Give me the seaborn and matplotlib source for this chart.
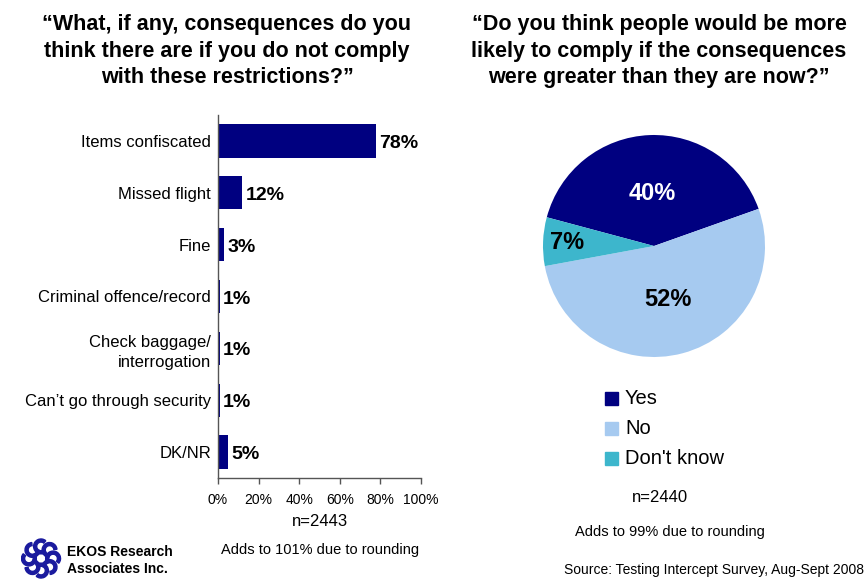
import numpy as np
import pandas as pd
import matplotlib
matplotlib.use("Agg")
import matplotlib.pyplot as plt
from matplotlib.patches import Circle, Rectangle, Wedge
import seaborn as sns

# Consequences question (bar chart)
consequences = ["Items confiscated", "Missed flight", "Fine", "Criminal offence/record",
                "Check baggage/\ninterrogation", "Can\u2019t go through security", "DK/NR"]
consequence_pct = [78, 12, 3, 1, 1, 1, 5]
bar_ticks = [0, 20, 40, 60, 80, 100]

# Compliance question (pie chart)
comply_labels = ["Yes", "No", "Don't know"]
comply_pct = [40, 52, 7]

NAVY = "#000080"
LIGHT = "#A6CAF0"
TEAL = "#3DB6CC"
comply_colors = [NAVY, LIGHT, TEAL]

sns.set_theme(style="white")
plt.rcParams["font.family"] = ["Liberation Sans", "DejaVu Sans"]
plt.rcParams["text.color"] = "black"
plt.rcParams["xtick.color"] = "black"
plt.rcParams["ytick.color"] = "black"

W, H = 867, 579
fig = plt.figure(figsize=(W / 100, H / 100), dpi=100)


def px_axes(x0, y0, x1, y1):
    return fig.add_axes([x0 / W, 1 - y1 / H, (x1 - x0) / W, (y1 - y0) / H])


def fig_text(x, y, s, **kw):
    fig.text(x / W, 1 - y / H, s, **kw)


# ---- bar chart ----
ax = px_axes(218, 115, 421, 478)
df = pd.DataFrame({"item": consequences, "pct": consequence_pct})
sns.barplot(data=df, y="item", x="pct", orient="h", color=NAVY, saturation=1,
            width=0.64, ax=ax)
for p in ax.patches:
    p.set_edgecolor("none")
ax.set_xlim(0, 100)
ax.set_xticks(bar_ticks)
ax.set_xticklabels([f"{t}%" for t in bar_ticks], fontsize=10)
ax.set_yticks(range(len(consequences)))
ax.set_yticklabels(consequences, fontsize=12, linespacing=1.45)
ax.set_xlabel("")
ax.set_ylabel("")
ax.tick_params(axis="y", length=0, pad=5)
ax.tick_params(axis="x", bottom=True, length=4, width=1, color="#555555", pad=7)
for side in ["top", "right"]:
    ax.spines[side].set_visible(False)
for side in ["left", "bottom"]:
    ax.spines[side].set_color("#555555")
    ax.spines[side].set_linewidth(1)
for i, v in enumerate(consequence_pct):
    ax.text(v + 1.5, i + 0.05, f"{v}%", va="center", ha="left", fontsize=14,
            fontweight="bold", color="black")

# ---- pie chart ----
pax = px_axes(543, 135, 765, 357)
wedges, _ = pax.pie(comply_pct, colors=comply_colors, startangle=165,
                    counterclock=False, radius=1,
                    wedgeprops=dict(linewidth=0))
pax.set_xlim(-1, 1)
pax.set_ylim(-1, 1)
pax.set_aspect("equal")
label_dist = [0.47, 0.5, 0.78]
label_col = ["white", "black", "black"]
for w, v, d, c in zip(wedges, comply_pct, label_dist, label_col):
    mid = np.deg2rad((w.theta1 + w.theta2) / 2)
    pax.text(d * np.cos(mid), d * np.sin(mid), f"{v}%", ha="center", va="center",
             fontsize=17, fontweight="bold", color=c)

# legend
lax = px_axes(600, 380, 760, 475)
lax.set_axis_off()
lax.set_xlim(0, 160)
lax.set_ylim(95, 0)
for k, (lab, col) in enumerate(zip(comply_labels, comply_colors)):
    yc = 18 + k * 30
    lax.add_patch(Rectangle((5, yc - 6), 13, 13, color=col))
    lax.text(25, yc, lab, va="center", ha="left", fontsize=14.5)

# ---- titles ----
title_kw = dict(ha="center", va="center", fontsize=15.5, fontweight="bold",
                linespacing=1.35)
fig_text(227, 51, "\u201cWhat, if any, consequences do you\nthink there are if you do not comply\nwith these restrictions?\u201d", **title_kw)
fig_text(659, 51, "\u201cDo you think people would be more\nlikely to comply if the consequences\nwere greater than they are now?\u201d", **title_kw)

# ---- notes ----
fig_text(320, 521, "n=2443", ha="center", va="center", fontsize=12)
fig_text(320, 550, "Adds to 101% due to rounding", ha="center", va="center", fontsize=10.5)
fig_text(660, 497, "n=2440", ha="center", va="center", fontsize=12)
fig_text(670, 532, "Adds to 99% due to rounding", ha="center", va="center", fontsize=10.5)
fig_text(864, 570, "Source: Testing Intercept Survey, Aug-Sept 2008", ha="right",
         va="center", fontsize=10)

# ---- logo ----
gax = px_axes(20, 538, 62, 579)
gax.set_axis_off()
gax.set_xlim(-1.05, 1.05)
gax.set_ylim(-1.05, 1.05)
gax.set_aspect("equal")
for a in np.linspace(0, 2 * np.pi, 8, endpoint=False):
    cx, cy = 0.62 * np.cos(a), 0.62 * np.sin(a)
    gax.add_patch(Wedge((cx, cy), 0.38, np.rad2deg(a) - 40, np.rad2deg(a) + 220,
                        width=0.16, color="#1A1A9E"))
gax.add_patch(Circle((0, 0), 0.3, fill=False, lw=2, color="#1A1A9E"))
fig_text(67, 552, "EKOS Research", ha="left", va="center", fontsize=10, fontweight="bold")
fig_text(67, 569, "Associates Inc.", ha="left", va="center", fontsize=10, fontweight="bold")

fig.savefig("out.png", dpi=100)
